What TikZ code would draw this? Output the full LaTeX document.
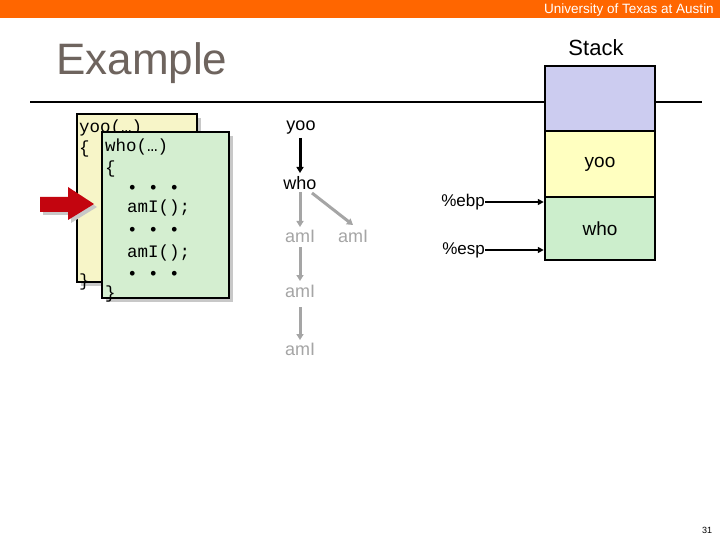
\documentclass[tikz,border=0pt]{standalone}
\usepackage{fontspec}
\setmainfont{Liberation Sans}
\newfontfamily\codefont{Liberation Mono}
\usetikzlibrary{arrows.meta,calc}
\definecolor{utorange}{RGB}{255,102,0}
\definecolor{titlegray}{RGB}{110,100,94}
\definecolor{stackblue}{RGB}{204,204,240}
\definecolor{stackyellow}{RGB}{255,255,192}
\definecolor{stackgreen}{RGB}{204,238,204}
\definecolor{codeyellow}{RGB}{247,245,200}
\definecolor{codegreen}{RGB}{212,238,208}
\definecolor{shadowgray}{RGB}{200,200,200}
\definecolor{treegray}{RGB}{165,165,165}
\definecolor{arrowred}{RGB}{195,5,15}
\tikzset{
  lbl/.style={inner sep=0pt, font=\fontsize{18}{20}\selectfont},
  graylbl/.style={lbl, text=treegray},
  code/.style={inner sep=0pt, anchor=base west, font=\codefont\fontsize{17.5}{20}\selectfont},
  codebox/.style={draw=black, line width=2pt, inner sep=0pt},
  cell/.style={draw=black, line width=2.5pt, minimum width=110pt, inner sep=0pt, font=\fontsize{19}{21}\selectfont},
  tip/.style={-{Triangle[length=6pt,width=7pt]}},
  blackarrow/.style={tip, draw=black, line width=3pt},
  grayarrow/.style={tip, draw=treegray, fill=treegray, line width=3pt},
  regarrow/.style={-{Triangle[length=6pt,width=6pt]}, draw=black, line width=2.6pt},
}
\begin{document}
\begin{tikzpicture}[x=1pt,y=-1pt]
\useasboundingbox (0,0) rectangle (720,540);
\fill[white] (0,0) rectangle (720,540);
% header bar
\fill[utorange] (0,0) rectangle (720,18);
\node[anchor=base west, inner sep=0pt, text=white, font=\fontsize{13.5}{15}\selectfont] (uni) at (544,14) {University of Texas at Austin};
% title
\node[anchor=base west, inner sep=0pt, text=titlegray, font=\fontsize{44}{46}\selectfont] (title) at (56,75) {Example};
% rule
\draw[line width=2.5pt] (30,102) -- (702,102);
% code boxes
\fill[shadowgray] (81,118) rectangle (201,286);
\node[codebox, fill=codeyellow, minimum width=120pt, minimum height=168pt] (yoobox) at (137,198) {};
\node[code] (yoo1) at (79,133) {yoo(…)};
\node[code] (yoo2) at (79,154) {\{};
\node[code] (yoo3) at (79,286) {\}};
\fill[shadowgray] (106,136) rectangle (233,302);
\node[codebox, fill=codegreen, minimum width=127pt, minimum height=166pt] (whobox) at (165.5,215) {};
\node[code] (w1) at (105,152) {who(…)};
\node[code] (w2) at (105,174) {\{};
\node[code] (w3) at (127,194) {• • •};
\node[code] (w4) at (127,213) {amI();};
\node[code] (w5) at (127,236) {• • •};
\node[code] (w6) at (127,258) {amI();};
\node[code] (w7) at (127,279) {• • •};
\node[code] (w8) at (105,298) {\}};
% red arrow
\fill[shadowgray] (43,200) -- (71,200) -- (71,190) -- (97,207) -- (71,223) -- (71,215) -- (43,215) -- cycle;
\fill[arrowred] (40,197) -- (68,197) -- (68,187) -- (94,204) -- (68,220) -- (68,212) -- (40,212) -- cycle;
% call tree
\node[lbl] (tyoo) at (301,128) {yoo};
\node[lbl] (twho) at (300,183) {who};
\node[graylbl] (ta1) at (300,236) {amI};
\node[graylbl] (ta2) at (353,236) {amI};
\node[graylbl] (ta3) at (300,291) {amI};
\node[graylbl] (ta4) at (300,349) {amI};
\draw[blackarrow] ($(tyoo.center)+(-1,10)$) -- ($(twho.center)+(0,-10)$);
\draw[grayarrow] ($(twho.center)+(0,9)$) -- ($(ta1.center)+(0,-9)$);
\draw[grayarrow] ($(twho.center)+(12,10)$) -- ($(ta2.center)+(0,-11)$);
\draw[grayarrow] ($(ta1.center)+(0,11)$) -- ($(ta3.center)+(0,-10)$);
\draw[grayarrow] ($(ta3.center)+(0,16)$) -- ($(ta4.center)+(0,-9)$);
% stack
\node[lbl, font=\fontsize{22}{24}\selectfont] (stacklbl) at (596,48) {Stack};
\node[cell, fill=stackblue, minimum height=65pt] (c0) at (600,98.5) {};
\node[cell, fill=stackyellow, minimum height=66pt] (c1) at (600,164) {yoo};
\node[cell, fill=stackgreen, minimum height=63pt] (c2) at (600,228.5) {who};
\node[lbl, font=\fontsize{17}{19}\selectfont, anchor=east] (ebp) at (485,202) {\%ebp};
\node[lbl, font=\fontsize{17}{19}\selectfont, anchor=east] (esp) at (485,250) {\%esp};
\draw[regarrow] (ebp.east) -- (ebp.east -| c2.west);
\draw[regarrow] (esp.east) -- (esp.east -| c2.west);
% page number
\node[inner sep=0pt, font=\fontsize{9}{10}\selectfont] (pnum) at (707,530) {31};
\end{tikzpicture}
\end{document}
